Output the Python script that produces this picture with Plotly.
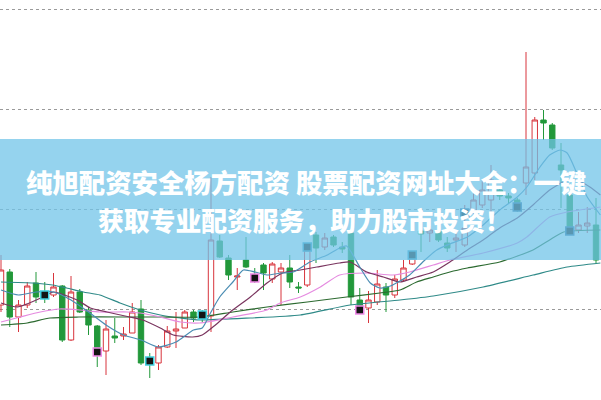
import plotly.graph_objects as go

# ---------------- data ----------------
idx = list(range(69))
opens = [10.04,10.37,9.92,10.04,10.26,10.15,10.14,10.23,9.69,10.17,
         9.99,9.83,9.58,9.73,9.73,9.76,10.00,9.49,9.46,9.62,
         9.78,9.81,9.97,9.95,9.93,10.68,10.51,10.32,10.49,10.33,
         10.44,10.30,10.37,10.41,10.22,10.24,10.74,10.62,10.72,10.62,
         10.76,10.09,10.01,10.07,10.22,10.14,10.29,10.45,10.78,10.76,
         10.78,10.66,10.69,10.64,10.97,11.04,11.09,11.19,11.13,11.09,
         11.26,11.36,11.89,11.84,11.44,11.14,10.79,10.83,10.84]
highs = [10.54,10.40,10.09,10.27,10.37,10.27,10.36,10.24,10.33,10.20,
         10.02,9.84,9.89,9.91,9.82,10.06,10.09,9.56,9.64,9.83,
         9.97,9.99,9.99,9.99,11.32,10.74,10.54,10.41,10.72,10.41,
         10.46,10.47,10.46,10.54,10.27,10.64,10.77,10.76,10.74,10.67,
         10.77,10.21,10.18,10.39,10.26,10.34,10.49,10.57,10.87,10.83,
         10.82,10.72,10.79,11.04,11.19,11.29,11.44,11.23,11.16,11.11,
         12.57,11.92,11.99,11.86,11.66,11.19,10.97,11.02,11.11]
lows = [9.97,9.82,9.77,10.01,10.06,10.06,10.12,9.67,9.68,9.96,
        9.74,9.42,9.34,9.66,9.69,9.76,9.44,9.31,9.39,9.61,
        9.61,9.81,9.87,9.87,9.77,10.51,10.29,10.19,10.41,10.26,
        10.19,10.26,10.04,10.21,10.16,10.22,10.46,10.59,10.62,10.56,
        10.04,9.97,9.86,10.04,9.97,10.11,10.27,10.44,10.57,10.67,
        10.67,10.57,10.57,10.62,10.94,11.01,10.94,11.09,11.06,10.97,
        11.14,11.29,11.69,11.59,11.01,10.74,10.76,10.76,10.46]
closes = [10.39,9.92,10.04,10.23,10.12,10.14,10.22,9.69,10.17,9.97,
          9.84,9.59,9.80,9.71,9.75,9.97,9.46,9.47,9.62,9.78,
          9.80,9.97,9.91,9.93,10.69,10.52,10.34,10.33,10.42,10.31,
          10.36,10.45,10.41,10.27,10.21,10.59,10.61,10.71,10.64,10.60,
          10.12,10.02,10.09,10.25,10.14,10.30,10.41,10.51,10.75,10.79,
          10.69,10.61,10.71,10.81,11.09,11.19,11.29,11.13,11.11,11.02,
          11.42,11.89,11.86,11.61,11.39,10.76,10.84,10.86,10.49]

ma5_x = [0,2,4,6,8,10,12,14,16,18,20,22,23,24,25,26.5,27.7,29,30.4,32,33.4,35.3,37.3,38.7,39.5,
         41,42.2,43.3,44.5,46.7,48.2,49.8,51.3,53.3,55.1,57,59,60.1,61.6,62.7,63.9,64.7,65.8,67,68.5]
ma5_y = [10.19,10.14,10.17,10.17,10.09,9.97,9.84,9.74,9.69,9.62,9.67,9.79,9.81,9.97,10.12,10.27,10.39,10.37,10.34,10.36,10.37,10.47,10.54,10.61,10.63,
         10.42,10.26,10.21,10.23,10.34,10.47,10.59,10.65,10.72,10.84,10.99,11.12,11.22,11.42,11.54,11.59,11.56,11.36,11.12,10.94]

ma10_x = [0,1.9,4.8,6,8.7,10.2,12.1,14.7,16.2,18.2,19.7,21.9,23,24.5,26.2,28.5,30.4,32.2,34.2,36.1,38.7,39.9,
          41.8,43.7,45.6,47.5,49.4,51.3,53.3,55.1,57,59,60.8,62.7,64.7,65.8,67.3,68.5]
ma10_y = [10.06,10.02,10.12,10.17,10.09,10.01,9.97,9.92,9.89,9.81,9.74,9.72,9.74,9.84,9.97,10.12,10.26,10.36,10.39,10.42,10.46,10.47,
          10.37,10.32,10.27,10.32,10.37,10.47,10.59,10.69,10.81,10.91,11.04,11.19,11.29,11.29,11.22,11.14]

ma20_x = [0,2.2,4.5,6.7,9,11.3,14.4,15.9,18.2,20.5,22.7,26.5,30.4,31.9,34.2,36.5,38.7,41.8,44.8,46.7,49.4,51.3,55.1,59,60.1,62.7,64.7,68.5]
ma20_y = [9.87,9.92,9.97,10.00,9.99,9.97,9.97,9.96,9.92,9.87,9.86,9.92,9.99,10.06,10.12,10.22,10.34,10.36,10.34,10.37,10.44,10.49,10.56,10.66,10.72,10.92,10.97,11.02]

ma30_x = [0,3,5.6,8.9,13.7,18,22.7,26.5,30.4,35,39.5,43.3,45.6,47.5,49.4,51.3,53.3,57,60.8,62.7,64.3,68.5]
ma30_y = [9.84,9.86,9.91,9.92,9.92,9.92,9.92,9.97,10.02,10.07,10.12,10.16,10.19,10.27,10.32,10.37,10.41,10.47,10.59,10.69,10.77,10.79]

ma60_x = [0,3.7,5.9,7.5,9.4,11.3,13.6,15.9,18.2,20.5,22.7,28.5,34.2,39.9,45.6,49.4,55.1,60.8,64.7,68.5]
ma60_y = [10.27,10.26,10.24,10.21,10.17,10.14,10.06,9.99,9.94,9.91,9.89,9.91,9.94,10.04,10.09,10.13,10.22,10.34,10.42,10.46]

sig_x = [5,11,17,23,29,35,41,47,53,59,65]
sig_y = [10.14,9.57,9.48,9.94,10.31,10.62,9.99,10.54,10.96,11.02,10.78]
sig_c = ["#3fd0e0","#f08ae8","#3fd0e0","#3fd0e0","#f08ae8","#3aa0c0","#f08ae8","#3aa0c0","#3a6fa0","#3a6fa0","#3a6fa0"]

grid_vals = [10.0, 11.0, 12.0, 13.0]
title1 = "纯旭配资安全杨方配资 股票配资网址大全：一键"
title2 = "获取专业配资服务，助力股市投资！"

# ---------------- figure ----------------
fig = go.Figure()
fig.add_trace(go.Candlestick(
    x=idx, open=opens, high=highs, low=lows, close=closes,
    increasing=dict(line=dict(color="#d8343c", width=1), fillcolor="white"),
    decreasing=dict(line=dict(color="#22983a", width=1), fillcolor="#22983a"),
    whiskerwidth=0, hoverinfo="skip", showlegend=False))

for xs, ys, col in [(ma60_x, ma60_y, "#2f8a88"), (ma30_x, ma30_y, "#2c6a30"),
                    (ma20_x, ma20_y, "#e58be0"), (ma10_x, ma10_y, "#7a355f"),
                    (ma5_x, ma5_y, "#4b8db3")]:
    fig.add_trace(go.Scatter(x=xs, y=ys, mode="lines", line=dict(color=col, width=1.2, shape="spline", smoothing=0.6),
                             hoverinfo="skip", showlegend=False))

fig.add_trace(go.Scatter(x=sig_x, y=sig_y, mode="markers",
                         marker=dict(symbol="square", size=8, color="#141414", line=dict(color=sig_c, width=1.5)),
                         hoverinfo="skip", showlegend=False))

fig.update_layout(
    width=601, height=400, margin=dict(l=0, r=0, t=0, b=0),
    paper_bgcolor="white", plot_bgcolor="white",
    xaxis=dict(range=[-0.114, 68.57], visible=False, rangeslider=dict(visible=False), fixedrange=True),
    yaxis=dict(range=[9.09, 13.09], tickvals=grid_vals, showticklabels=False, showgrid=True,
               gridcolor="#9a9a9a", griddash="dot", gridwidth=1, zeroline=False, showline=False, ticks=""),
    boxgap=0.12,
    shapes=[dict(type="rect", xref="paper", yref="paper", x0=0, x1=1, y0=0.35, y1=0.6525,
                 fillcolor="rgba(112,196,232,0.74)", line=dict(width=0), layer="above")],
    annotations=[
        dict(text=title1, xref="paper", yref="paper", x=0.5085, y=0.546, showarrow=False,
             font=dict(family="Noto Sans CJK SC", size=26.4, color="white", weight=900), xanchor="center", yanchor="middle"),
        dict(text=title2, xref="paper", yref="paper", x=0.5065, y=0.452, showarrow=False,
             font=dict(family="Noto Sans CJK SC", size=25.8, color="white", weight=900), xanchor="center", yanchor="middle"),
    ],
)

fig.write_html("out.html", config={"displayModeBar": False},
               post_script="document.body.style.margin='0';document.body.style.padding='0';")
